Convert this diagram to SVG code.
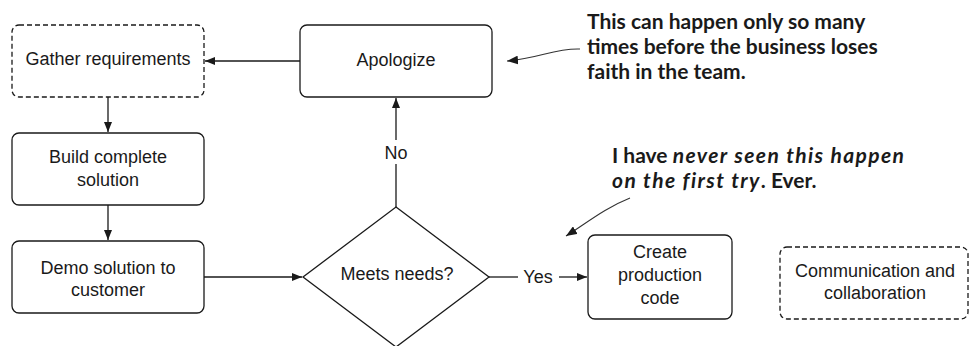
<svg xmlns="http://www.w3.org/2000/svg" width="970" height="346" viewBox="0 0 970 346">
  <defs>
    <marker id="arrow" viewBox="0 0 10 8" refX="10" refY="4" markerWidth="10" markerHeight="8" markerUnits="userSpaceOnUse" orient="auto">
      <path d="M0,0 L10,4 L0,8 Z" fill="#1a1a1a"/>
    </marker>
    <marker id="arrow-sm" viewBox="0 0 10 8" refX="10" refY="4" markerWidth="11" markerHeight="9" markerUnits="userSpaceOnUse" orient="auto">
      <path d="M0,0 L10,4 L0,8 Z" fill="#1a1a1a"/>
    </marker>
  </defs>
  <style>
    .box { fill: #ffffff; stroke: #1a1a1a; stroke-width: 1.3; }
    .dashed { stroke-dasharray: 5 3; }
    .label { font-family: "Liberation Sans", Arial, sans-serif; font-size: 18px; fill: #1a1a1a; text-anchor: middle; }
    .edge { fill: none; stroke: #1a1a1a; stroke-width: 1.3; }
    .note { font-family: Lato, "Open Sans", sans-serif; font-weight: 700; font-size: 21px; fill: #1a1a1a; }
    .em { font-style: italic; letter-spacing: 1.4px; }
    .note-arrow { fill: none; stroke: #333333; stroke-width: 1.1; }
  </style>
  <rect width="970" height="346" fill="#ffffff"/>

  <!-- connectors -->
  <g id="connectors">
    <line class="edge" x1="300" y1="61" x2="205" y2="61" marker-end="url(#arrow)"/>
    <line class="edge" x1="108" y1="97" x2="108" y2="132" marker-end="url(#arrow)"/>
    <line class="edge" x1="108" y1="205" x2="108" y2="240" marker-end="url(#arrow)"/>
    <line class="edge" x1="204" y1="277" x2="302" y2="277" marker-end="url(#arrow)"/>
    <line class="edge" x1="396" y1="207" x2="396" y2="98" marker-end="url(#arrow)"/>
    <rect x="382" y="140" width="28" height="24" fill="#ffffff"/>
    <text class="label" x="396" y="159">No</text>
    <line class="edge" x1="489" y1="277" x2="518" y2="277"/>
    <text class="label" x="538" y="283">Yes</text>
    <line class="edge" x1="559" y1="277" x2="587" y2="277" marker-end="url(#arrow)"/>
  </g>

  <!-- process nodes -->
  <g id="gather">
    <rect class="box dashed" x="12" y="25" width="192" height="72" rx="7"/>
    <text class="label" x="108" y="65">Gather requirements</text>
  </g>
  <g id="apologize">
    <rect class="box" x="300" y="25" width="192" height="72" rx="7"/>
    <text class="label" x="396" y="66">Apologize</text>
  </g>
  <g id="build">
    <rect class="box" x="12" y="133" width="192" height="72" rx="7"/>
    <text class="label" x="108" y="163">Build complete</text>
    <text class="label" x="108" y="186">solution</text>
  </g>
  <g id="demo">
    <rect class="box" x="12" y="241" width="192" height="72" rx="7"/>
    <text class="label" x="108" y="274">Demo solution to</text>
    <text class="label" x="108" y="296">customer</text>
  </g>
  <g id="decision">
    <path class="box" d="M396,207 L489,277 L396,347 L303,277 Z"/>
    <text class="label" x="397" y="280">Meets needs?</text>
  </g>
  <g id="production">
    <rect class="box" x="588" y="235" width="144" height="84" rx="7"/>
    <text class="label" x="660" y="258">Create</text>
    <text class="label" x="660" y="281">production</text>
    <text class="label" x="660" y="304">code</text>
  </g>
  <g id="communication">
    <rect class="box dashed" x="780" y="247" width="188" height="72" rx="7"/>
    <text class="label" x="875" y="277">Communication and</text>
    <text class="label" x="875" y="299">collaboration</text>
  </g>

  <!-- annotations -->
  <g id="note-apologize">
    <path class="note-arrow" d="M580,49 C555,48 540,58 507,61" marker-end="url(#arrow-sm)"/>
    <text class="note" x="587" y="29">This can happen only so many</text>
    <text class="note" x="587" y="54">times before the business loses</text>
    <text class="note" x="587" y="79">faith in the team.</text>
  </g>
  <g id="note-first-try">
    <path class="note-arrow" d="M630,198 C605,208 588,222 566,236" marker-end="url(#arrow-sm)"/>
    <text class="note" x="612" y="163">I have <tspan class="em">never seen this happen</tspan></text>
    <text class="note" x="612" y="188"><tspan class="em">on the first try</tspan>. Ever.</text>
  </g>
</svg>
